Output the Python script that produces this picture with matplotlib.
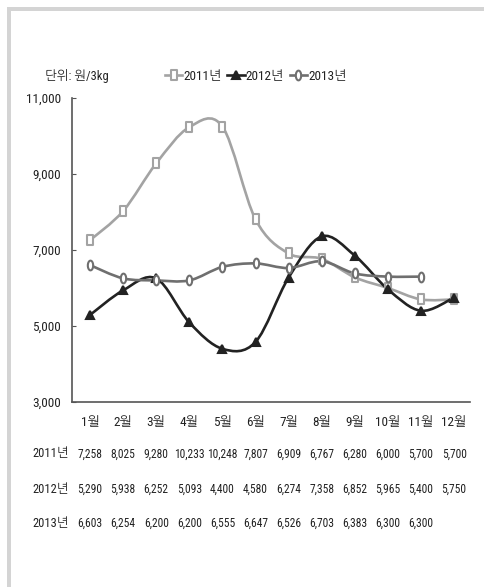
import numpy as np
import matplotlib.pyplot as plt
from matplotlib.path import Path
from matplotlib.patches import PathPatch, Rectangle
from matplotlib.lines import Line2D

plt.rcParams['font.family'] = ['Roboto Condensed', 'NanumGothic', 'Noto Sans CJK KR', 'DejaVu Sans']

# data (원/3kg)
months = ['1월', '2월', '3월', '4월', '5월', '6월', '7월', '8월', '9월', '10월', '11월', '12월']
years = ['2011년', '2012년', '2013년']
price_2011 = [7258, 8025, 9280, 10233, 10248, 7807, 6909, 6767, 6280, 6000, 5700, 5700]
price_2012 = [5290, 5938, 6252, 5093, 4400, 4580, 6274, 7358, 6852, 5965, 5400, 5750]
price_2013 = [6603, 6254, 6200, 6200, 6555, 6647, 6526, 6703, 6383, 6300, 6300]

colors = ['#a3a3a3', '#222222', '#6f6f6f']
text_color = '#222222'

# tall rectangle and tall ellipse markers
rect_marker = Path([(-0.6, -1), (0.6, -1), (0.6, 1), (-0.6, 1), (-0.6, -1)],
                   [Path.MOVETO, Path.LINETO, Path.LINETO, Path.LINETO, Path.CLOSEPOLY])
t = np.linspace(0, 2 * np.pi, 40)
ellipse_marker = Path(np.column_stack([0.55 * np.cos(t), np.sin(t)]))


def smooth_path(xs, ys, tension=1 / 6):
    # Bezier segments through the points (Excel style smoothed line)
    pts = np.column_stack([xs, ys]).astype(float)
    n = len(pts)
    verts = [pts[0]]
    codes = [Path.MOVETO]
    for i in range(n - 1):
        p0 = pts[i - 1] if i > 0 else pts[i]
        p1 = pts[i]
        p2 = pts[i + 1]
        p3 = pts[i + 2] if i + 2 < n else pts[i + 1]
        c1 = p1 + (p2 - p0) * tension
        c2 = p2 - (p3 - p1) * tension
        verts += [c1, c2, p2]
        codes += [Path.CURVE4] * 3
    return Path(verts, codes)


fig = plt.figure(figsize=(4.85, 5.87), dpi=100)

# light gray frame at top and left
fig.patches.append(Rectangle((7 / 485, 0), 4 / 485, 1 - 7 / 587, transform=fig.transFigure,
                             facecolor='#d4d4d4', edgecolor='none'))
fig.patches.append(Rectangle((7 / 485, 1 - 11 / 587), 1, 4 / 587, transform=fig.transFigure,
                             facecolor='#d4d4d4', edgecolor='none'))

ax = fig.add_axes([72 / 485, 185 / 587, 398 / 485, 304 / 587])

series = [price_2011, price_2012, price_2013]
markers = [rect_marker, '^', ellipse_marker]
faces = ['white', colors[1], 'white']
handles = []
for vals, c, m, fc, lab in zip(series, colors, markers, faces, years):
    x = np.arange(len(vals))
    ms = 7 if m != '^' else 6
    ax.add_patch(PathPatch(smooth_path(x, vals), facecolor='none', edgecolor=c, lw=1.9, zorder=2))
    ax.plot(x, vals, linestyle='none', marker=m, markersize=ms,
            markerfacecolor=fc, markeredgecolor=c, markeredgewidth=1.5, zorder=3)
    handles.append(Line2D([], [], color=c, lw=1.9, marker=m, markersize=ms,
                          markerfacecolor=fc, markeredgecolor=c, markeredgewidth=1.5, label=lab))

ax.set_xlim(-0.544, 11.48)
ax.set_ylim(3000, 11000)
ax.set_yticks(np.arange(3000, 11001, 2000))
ax.set_yticklabels([f'{v:,}' for v in range(3000, 11001, 2000)])
ax.set_xticks(range(12))
ax.set_xticklabels(months)
ax.tick_params(axis='x', length=0, pad=10, labelsize=9.5, labelcolor=text_color)
ax.tick_params(axis='y', direction='in', length=3, pad=8, labelsize=9.5,
               labelcolor=text_color, color='#555555')
for s in ['top', 'right']:
    ax.spines[s].set_visible(False)
for s in ['left', 'bottom']:
    ax.spines[s].set_color('#555555')
    ax.spines[s].set_linewidth(1.2)

# unit label and legend
fig.text(45 / 485, 1 - 76 / 587, '단위: 원/3kg', fontsize=9, color=text_color, va='center')
fig.legend(handles=handles, loc='center', bbox_to_anchor=(256 / 485, 1 - 76 / 587),
           ncol=3, frameon=False, fontsize=9.5, handlelength=1.3, handletextpad=0.1,
           columnspacing=0.4, labelcolor=text_color)

# data table below the chart
row_y = [454, 489, 523]
for vals, lab, yy in zip(series, years, row_y):
    ty = 1 - yy / 587
    fig.text(69 / 485, ty, lab, fontsize=9, color=text_color, va='center', ha='right')
    for i, v in enumerate(vals):
        xf = ax.transData.transform((i, 0))[0] / fig.bbox.width
        fig.text(xf, ty, f'{v:,}', fontsize=8.3, color=text_color, va='center', ha='center')

fig.savefig('out.png', dpi=100)
